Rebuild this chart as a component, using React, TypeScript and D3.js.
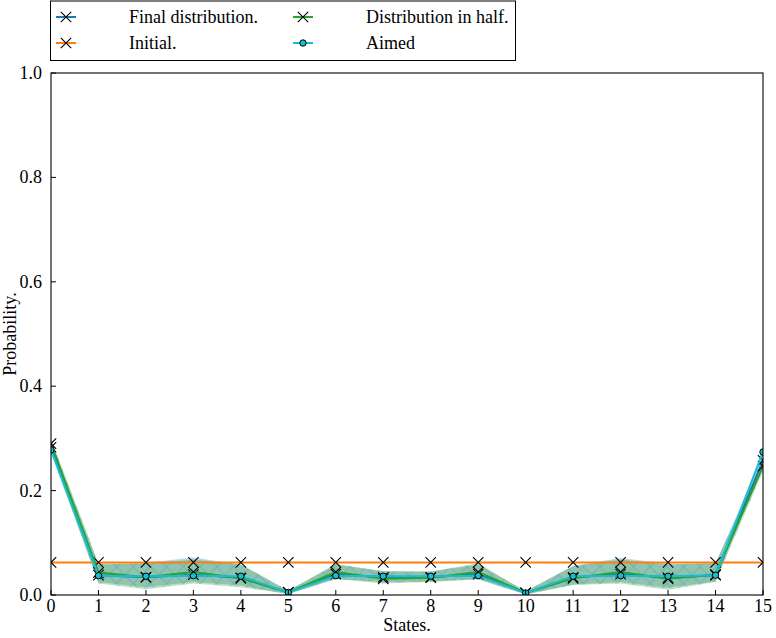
import React from "react";
import * as d3 from "d3";

const states = d3.range(16);
const aimed = [0.278, 0.037, 0.036, 0.037, 0.036, 0.005, 0.037, 0.036, 0.036, 0.037, 0.004, 0.036, 0.037, 0.036, 0.038, 0.274];
const finalDist = [0.283, 0.038, 0.034, 0.039, 0.033, 0.005, 0.040, 0.034, 0.034, 0.040, 0.004, 0.034, 0.040, 0.033, 0.038, 0.258];
const halfDist = [0.290, 0.043, 0.034, 0.044, 0.032, 0.005, 0.044, 0.031, 0.033, 0.044, 0.004, 0.032, 0.044, 0.031, 0.039, 0.247];
const initialDist = states.map(() => 0.0625);
const halfLow = [0.275, 0.022, 0.011, 0.022, 0.015, 0.002, 0.031, 0.022, 0.025, 0.030, 0.001, 0.019, 0.022, 0.010, 0.025, 0.237];
const halfHigh = [0.300, 0.061, 0.060, 0.068, 0.059, 0.008, 0.060, 0.045, 0.045, 0.061, 0.007, 0.055, 0.068, 0.058, 0.062, 0.257];
const finalLow = [0.272, 0.025, 0.015, 0.025, 0.018, 0.002, 0.030, 0.025, 0.026, 0.030, 0.001, 0.020, 0.025, 0.014, 0.026, 0.250];
const finalHigh = [0.295, 0.058, 0.062, 0.072, 0.058, 0.008, 0.058, 0.046, 0.045, 0.058, 0.007, 0.056, 0.071, 0.060, 0.060, 0.268];
const yTicks = [0, 0.2, 0.4, 0.6, 0.8, 1.0];

const W = 776, H = 638;
const L = 51, R = 763, T = 73, B = 595;
const FONT = "Liberation Serif, Times New Roman, Times, serif";
const FS = 18;

function XMark({ x, y, s = 5.2 }: { x: number; y: number; s?: number }) {
  return (
    <path d={`M${x - s},${y - s}L${x + s},${y + s}M${x - s},${y + s}L${x + s},${y - s}`} stroke="#000" strokeWidth={1.1} fill="none" />
  );
}

export default function App() {
  const x = d3.scaleLinear().domain([0, 15]).range([L, R]);
  const y = d3.scaleLinear().domain([0, 1]).range([B, T]);
  const line = d3.line<number>().x((_, i) => x(i)).y((d) => y(d));
  const area = (lo: number[], hi: number[]) =>
    d3.area<number>().x((_, i) => x(i)).y0((_, i) => y(lo[i])).y1((d) => y(d))(hi) || "";

  const series = [
    { data: finalDist, color: "#1f77b4", marker: "x" },
    { data: initialDist, color: "#ff7f0e", marker: "x" },
    { data: halfDist, color: "#2ca02c", marker: "x" },
    { data: aimed, color: "#17becf", marker: "o" },
  ];
  const legend = [
    { label: "Final distribution.", color: "#1f77b4", marker: "x", lx: 56, tx: 129, ly: 17 },
    { label: "Initial.", color: "#ff7f0e", marker: "x", lx: 56, tx: 129, ly: 43 },
    { label: "Distribution in half.", color: "#2ca02c", marker: "x", lx: 293, tx: 366, ly: 17 },
    { label: "Aimed", color: "#17becf", marker: "o", lx: 293, tx: 366, ly: 43 },
  ];

  return (
    <svg width={W} height={H} style={{ position: "absolute", left: 0, top: 0, background: "#fff", fontFamily: FONT }}>
      <defs>
        <clipPath id="plotclip">
          <rect x={L} y={T} width={R - L} height={B - T} />
        </clipPath>
        <pattern id="hatch" patternUnits="userSpaceOnUse" width={16.67} height={16.67}>
          <path d="M0,0L16.67,16.67M0,16.67L16.67,0" stroke="#1f77b4" strokeOpacity={0.28} strokeWidth={1} />
        </pattern>
      </defs>
      <rect x={0} y={0} width={W} height={H} fill="#fff" />
      <g clipPath="url(#plotclip)">
        <path d={area(finalLow, finalHigh)} fill="#1f77b4" fillOpacity={0.3} />
        <path d={area(halfLow, halfHigh)} fill="#2ca02c" fillOpacity={0.3} />
        <path d={area(halfLow, halfHigh)} fill="url(#hatch)" />
        {series.map((s, si) => (
          <g key={si}>
            <path d={line(s.data) || ""} fill="none" stroke={s.color} strokeWidth={2} />
            {s.data.map((v, i) =>
              s.marker === "x" ? (
                <XMark key={i} x={x(i)} y={y(v)} />
              ) : (
                <circle key={i} cx={x(i)} cy={y(v)} r={3.2} fill={s.color} stroke="#000" strokeWidth={1} />
              )
            )}
          </g>
        ))}
      </g>
      {/* axes */}
      <rect x={L} y={T} width={R - L} height={B - T} fill="none" stroke="#000" strokeWidth={1.1} />
      {states.map((s) => (
        <g key={s}>
          <line x1={x(s)} x2={x(s)} y1={B} y2={B - 5} stroke="#000" />
          <text x={x(s)} y={612} textAnchor="middle" fontSize={FS}>{s}</text>
        </g>
      ))}
      {yTicks.map((t) => (
        <g key={t}>
          <line x1={L} x2={L + 5} y1={y(t)} y2={y(t)} stroke="#000" />
          <text x={42} y={y(t)} dy="0.33em" textAnchor="end" fontSize={FS}>{t.toFixed(1)}</text>
        </g>
      ))}
      <text x={(L + R) / 2} y={631} textAnchor="middle" fontSize={FS}>States.</text>
      <text transform={`translate(16,${(T + B) / 2}) rotate(-90)`} textAnchor="middle" fontSize={FS}>Probability.</text>
      {/* legend */}
      <rect x={50.5} y={1} width={465} height={59.5} fill="#fff" stroke="#000" strokeWidth={1} />
      {legend.map((l, i) => (
        <g key={i}>
          <line x1={l.lx} x2={l.lx + 20} y1={l.ly} y2={l.ly} stroke={l.color} strokeWidth={2} />
          {l.marker === "x" ? (
            <XMark x={l.lx + 10} y={l.ly} />
          ) : (
            <circle cx={l.lx + 10} cy={l.ly} r={3.2} fill={l.color} stroke="#000" strokeWidth={1} />
          )}
          <text x={l.tx} y={l.ly} dy="0.33em" fontSize={FS}>{l.label}</text>
        </g>
      ))}
    </svg>
  );
}
